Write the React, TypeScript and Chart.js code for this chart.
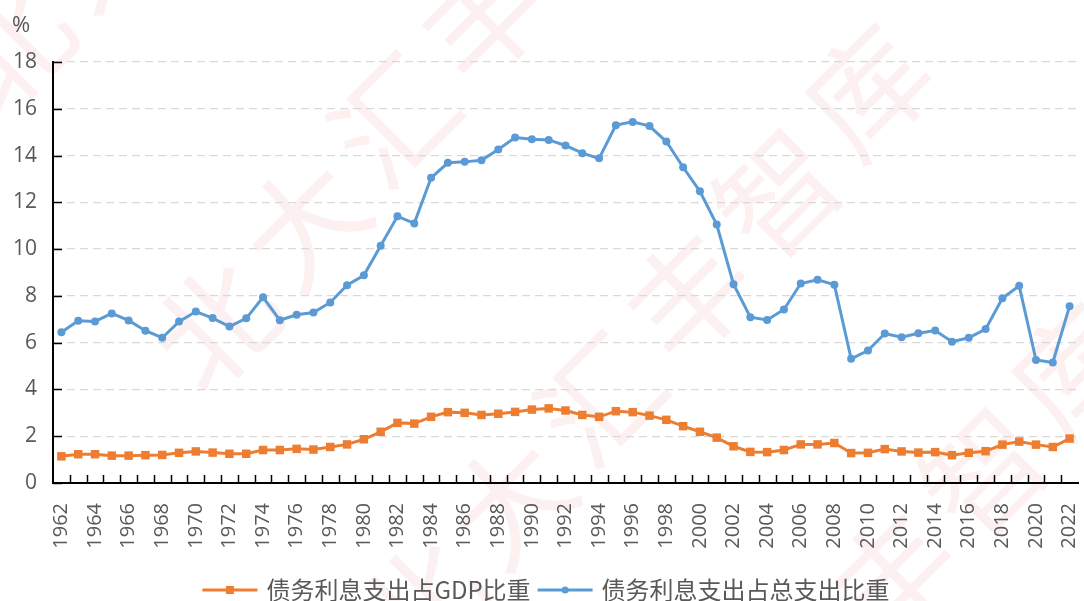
import React, { useEffect, useRef } from "react";
import { Chart, registerables } from "chart.js";

Chart.register(...registerables);

const years = [
  "1962", "1963", "1964", "1965", "1966", "1967", "1968", "1969", "1970", "1971",
  "1972", "1973", "1974", "1975", "1976", "1977", "1978", "1979", "1980", "1981",
  "1982", "1983", "1984", "1985", "1986", "1987", "1988", "1989", "1990", "1991",
  "1992", "1993", "1994", "1995", "1996", "1997", "1998", "1999", "2000", "2001",
  "2002", "2003", "2004", "2005", "2006", "2007", "2008", "2009", "2010", "2011",
  "2012", "2013", "2014", "2015", "2016", "2017", "2018", "2019", "2020", "2021",
  "2022",
];

// 债务利息支出占GDP比重 (%)
const interestToGdp = [
  1.14, 1.23, 1.23, 1.17, 1.17, 1.19, 1.2, 1.29, 1.35, 1.3,
  1.25, 1.25, 1.41, 1.41, 1.46, 1.43, 1.54, 1.65, 1.87, 2.19,
  2.57, 2.54, 2.83, 3.03, 3.0, 2.91, 2.96, 3.04, 3.14, 3.19,
  3.1, 2.91, 2.83, 3.07, 3.03, 2.88, 2.7, 2.43, 2.19, 1.94,
  1.57, 1.33, 1.32, 1.41, 1.65, 1.65, 1.71, 1.28, 1.29, 1.45,
  1.35, 1.3, 1.32, 1.19, 1.29, 1.36, 1.64, 1.77, 1.64, 1.54,
  1.9,
];

// 债务利息支出占总支出比重 (%)
const interestToOutlays = [
  6.45, 6.94, 6.91, 7.25, 6.95, 6.51, 6.21, 6.9, 7.33, 7.05,
  6.69, 7.04, 7.94, 6.96, 7.19, 7.29, 7.72, 8.46, 8.88, 10.14,
  11.4, 11.1, 13.05, 13.69, 13.73, 13.8, 14.26, 14.77, 14.7, 14.67,
  14.43, 14.1, 13.88, 15.3, 15.44, 15.26, 14.6, 13.5, 12.47, 11.05,
  8.5, 7.09, 6.97, 7.42, 8.53, 8.69, 8.48, 5.31, 5.66, 6.39,
  6.23, 6.4, 6.52, 6.04, 6.21, 6.58, 7.9, 8.43, 5.26, 5.15,
  7.56,
];

const seriesNames = ["债务利息支出占GDP比重", "债务利息支出占总支出比重"];
const seriesColors = ["#ED7D31", "#5B9BD5"];
const seriesPointStyles = ["rect", "circle"];
const yMin = 0;
const yMax = 18;
const yStep = 2;
const unitLabel = "%";
const watermarkText = "北大汇丰智库";

const TEXT_COLOR = "#595959";
const LATIN_FONT = '"Open Sans", "Liberation Sans", sans-serif';
const CJK_FONT = '"Noto Sans CJK SC", sans-serif';

const decorPlugin = {
  id: "decor",
  beforeDraw(chart: any) {
    const ctx = chart.ctx;
    ctx.save();
    ctx.fillStyle = "rgba(225, 80, 80, 0.085)";
    ctx.font = `120px ${CJK_FONT}`;
    ctx.textAlign = "center";
    ctx.textBaseline = "middle";
    const ang = (-49 * Math.PI) / 180;
    const step = 136;
    const starts = [
      [9, 46],
      [215, 325],
      [421, 604],
      [627, 883],
    ];
    const chars = Array.from(watermarkText);
    for (const [sx, sy] of starts) {
      chars.forEach((ch, k) => {
        const cx = sx + k * step * Math.cos(ang);
        const cy = sy + k * step * Math.sin(ang);
        ctx.save();
        ctx.translate(cx, cy);
        ctx.rotate((-45 * Math.PI) / 180);
        ctx.fillText(ch, 0, 0);
        ctx.restore();
      });
    }
    ctx.restore();
  },
  afterDraw(chart: any) {
    const ctx = chart.ctx;
    const area = chart.chartArea;
    const xs = chart.scales.x;
    const ys = chart.scales.y;
    ctx.save();
    ctx.strokeStyle = "#000000";
    ctx.lineWidth = 1.5;
    // inner ticks on y axis
    ys.ticks.forEach((t: any) => {
      const py = Math.round(ys.getPixelForValue(t.value)) + 0.5;
      ctx.beginPath();
      ctx.moveTo(area.left, py);
      ctx.lineTo(area.left + 9, py);
      ctx.stroke();
    });
    // inner ticks on x axis (between categories)
    for (let i = 1; i < years.length; i++) {
      const px = Math.round((xs.getPixelForTick(i - 1) + xs.getPixelForTick(i)) / 2) + 0.5;
      ctx.beginPath();
      ctx.moveTo(px, area.bottom);
      ctx.lineTo(px, area.bottom - 8);
      ctx.stroke();
    }
    // unit label
    ctx.fillStyle = TEXT_COLOR;
    ctx.font = `22px ${LATIN_FONT}`;
    ctx.textAlign = "center";
    ctx.textBaseline = "middle";
    ctx.fillText(unitLabel, 21, 26);

    // legend
    const lineLen = 55;
    const gapText = 9;
    const gapItem = 7;
    ctx.font = `24px ${CJK_FONT}`;
    const items = chart.data.datasets.map((ds: any, i: number) => ({
      label: ds.label,
      color: ds.borderColor,
      style: seriesPointStyles[i],
      w: lineLen + gapText + ctx.measureText(ds.label).width,
    }));
    const total = items.reduce((s: number, it: any) => s + it.w, 0) + gapItem * (items.length - 1);
    let x = chart.width / 2 - total / 2 + 4;
    const ly = 590;
    items.forEach((it: any) => {
      ctx.strokeStyle = it.color;
      ctx.fillStyle = it.color;
      ctx.lineWidth = 3;
      ctx.beginPath();
      ctx.moveTo(x, ly);
      ctx.lineTo(x + lineLen, ly);
      ctx.stroke();
      const mx = x + lineLen / 2;
      if (it.style === "rect") {
        ctx.fillRect(mx - 4, ly - 4, 8, 8);
      } else {
        ctx.beginPath();
        ctx.arc(mx, ly, 3.5, 0, Math.PI * 2);
        ctx.fill();
      }
      ctx.fillStyle = TEXT_COLOR;
      ctx.textAlign = "left";
      ctx.textBaseline = "middle";
      ctx.fillText(it.label, x + lineLen + gapText, ly);
      x += it.w + gapItem;
    });
    ctx.restore();
  },
};

export default function App() {
  const canvasRef = useRef<HTMLCanvasElement | null>(null);

  useEffect(() => {
    document.body.style.margin = "0";
    const canvas = canvasRef.current;
    if (!canvas) return;
    const chart = new Chart(canvas, {
      type: "line",
      data: {
        labels: years,
        datasets: [
          {
            label: seriesNames[0],
            data: interestToGdp,
            borderColor: seriesColors[0],
            backgroundColor: seriesColors[0],
            borderWidth: 3,
            pointStyle: "rect",
            pointRadius: 6,
            pointBorderWidth: 0,
            pointBackgroundColor: seriesColors[0],
            tension: 0,
          },
          {
            label: seriesNames[1],
            data: interestToOutlays,
            borderColor: seriesColors[1],
            backgroundColor: seriesColors[1],
            borderWidth: 3,
            pointStyle: "circle",
            pointRadius: 4,
            pointBorderWidth: 0,
            pointBackgroundColor: seriesColors[1],
            tension: 0,
          },
        ],
      },
      options: {
        responsive: false,
        animation: false,
        devicePixelRatio: 1,
        layout: { padding: { left: 0, right: 2, top: 62, bottom: 48 } },
        plugins: {
          legend: { display: false },
          tooltip: { enabled: false },
          title: { display: false },
        },
        scales: {
          x: {
            type: "category",
            offset: true,
            grid: { display: false, offset: true },
            border: { display: true, color: "#000000", width: 2 },
            ticks: {
              autoSkip: false,
              minRotation: 90,
              maxRotation: 90,
              padding: 12,
              color: TEXT_COLOR,
              font: { size: 20, family: LATIN_FONT },
              callback: (_v: any, i: number) => (i % 2 === 0 ? years[i] : ""),
            },
            afterFit: (scale: any) => {
              scale.height = 70;
              scale.paddingLeft = 0;
              scale.paddingRight = 0;
            },
          },
          y: {
            min: yMin,
            max: yMax,
            grid: {
              drawTicks: false,
              lineWidth: 1.3,
              color: (c: any) => (c.tick && c.tick.value === 0 ? "rgba(0,0,0,0)" : "#D9D9D9"),
            },
            border: { display: true, color: "#000000", width: 2, dash: [8, 5] },
            ticks: {
              stepSize: yStep,
              padding: 16,
              color: TEXT_COLOR,
              font: { size: 21, family: LATIN_FONT },
            },
            afterFit: (scale: any) => {
              scale.width = 53;
            },
          },
        },
      },
      plugins: [decorPlugin],
    });
    return () => chart.destroy();
  }, []);

  return (
    <div style={{ width: 1084, height: 601 }}>
      <canvas ref={canvasRef} width={1084} height={601} style={{ display: "block" }} />
    </div>
  );
}
